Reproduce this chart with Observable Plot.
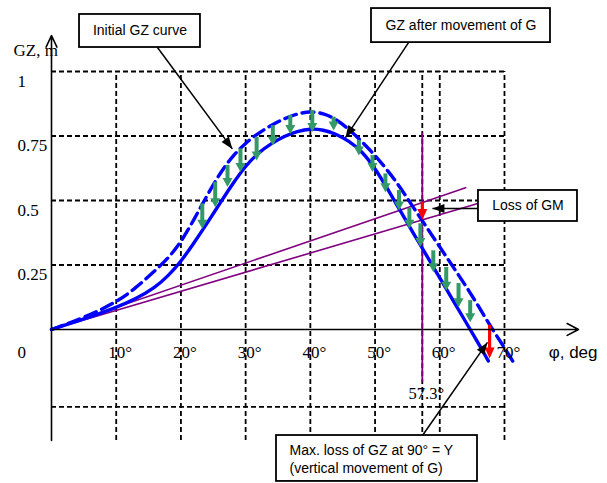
<!DOCTYPE html>
<html><head><meta charset="utf-8">
<script src="https://cdn.jsdelivr.net/npm/d3@7"></script>
<script src="https://cdn.jsdelivr.net/npm/@observablehq/plot@0.6"></script>
<style>html,body{margin:0;padding:0;background:#fff;} svg{display:block;}</style>
</head><body><div id="chart"></div>
<script>
// ---- data (heel angle φ in degrees, GZ in metres) ----
const initialPhi = [0,5,10,13,16,18,20,22,24,26,28,30,32,34,36,38,40,42,44,46,48,50,52,54,56,58,60,62,64,66,68,70,71.7];
const initialGZ  = [0,0.045,0.105,0.16,0.228,0.275,0.338,0.425,0.518,0.605,0.673,0.723,0.762,0.792,0.818,0.836,0.846,0.838,0.815,0.775,0.728,0.675,0.615,0.547,0.47,0.395,0.32,0.245,0.17,0.09,0.005,-0.07,-0.14];
const shiftedPhi = [0,5,10,13,16,18,20,22,24,26,28,30,32,34,36,38,40,42,44,46,48,50,52,54,56,58,60,62,64,66,67.5];
const shiftedGZ  = [0,0.04,0.085,0.118,0.162,0.207,0.263,0.335,0.41,0.488,0.565,0.635,0.686,0.722,0.75,0.768,0.779,0.774,0.758,0.73,0.69,0.625,0.543,0.455,0.37,0.285,0.2,0.115,0.03,-0.055,-0.122];

// green arrows: loss of GZ at each angle
const lossPhi = [23.3,25.3,27.2,29.2,31.7,34.2,36.9,40.3,43.6,47.5,49.6,51.6,53.7,55.3,57.0,59.0,61.0,62.9,64.7];
const lossTop = [0.487,0.571,0.636,0.70,0.745,0.79,0.83,0.849,0.823,0.733,0.674,0.603,0.539,0.47,0.41,0.305,0.24,0.178,0.112];
const lossTip = [0.39,0.474,0.552,0.61,0.655,0.713,0.758,0.765,0.771,0.674,0.61,0.532,0.461,0.39,0.32,0.222,0.15,0.086,0.028];

// red arrows: loss of GM (at 57.3°) and max loss of GZ
const redPhi = [57.3, 67.7];
const redTop = [0.492, 0.016];
const redTip = [0.424, -0.112];

// GM tangent lines (from origin)
const tangentEndPhi = [64.1, 66.0];
const tangentEndGZ  = [0.55, 0.489];
const radianPhi = 57.3;
const radianSpan = [-0.205, 0.76];

// axes / grid
const yTickValues = [1, 0.75, 0.5, 0.25];
const yTickLabels = ["1", "0.75", "0.5", "0.25"];
const xTickValues = [10, 20, 30, 40, 50, 60, 70];
const xTickLabels = ["10°", "20°", "30°", "40°", "50°", "60°", "70°"];
const hGridValues = [1, 0.75, 0.5, 0.25, -0.3];
const vGridValues = [10, 20, 30, 40, 50, 57.3, 60, 70];

// annotations (data units)
const noteTexts = ["Initial GZ curve", "GZ after movement of G", "Loss of GM"];
const noteBoxX1 = [4.33, 49.45, 65.98];
const noteBoxX2 = [23.02, 77.11, 81.28];
const noteBoxY1 = [1.093, 1.112, 0.4186];
const noteBoxY2 = [1.221, 1.244, 0.5388];
const bottomNoteLines = ["Max. loss of GZ at 90° = Y", "(vertical movement of G)"];
const bottomBox = {x1: 34.77, x2: 65.83, y1: -0.589, y2: -0.411};
const pointerFrom = [[16.38, 1.093], [55.17, 1.112], [65.98, 0.469], [57.33, -0.411]];
const pointerTo   = [[27.95, 0.70], [45.43, 0.744], [58.87, 0.469], [67.37, -0.05]];

// ---- layout ----
const W = 607, H = 483, ML = 51;
const xDomain = [0, 85.92];
const yDomain = [-0.597, 1.2752];
const KX = (W - ML) / (xDomain[1] - xDomain[0]);
const KY = H / (yDomain[1] - yDomain[0]);

function head(theta, L, Wd) {
  const c = Math.cos(theta), s = Math.sin(theta);
  const bx = -L * c, by = -L * s, px = -s * Wd / 2, py = c * Wd / 2;
  return {draw(ctx) { ctx.moveTo(0, 0); ctx.lineTo(bx + px, by + py); ctx.lineTo(bx - px, by - py); ctx.closePath(); }};
}

const initial = initialPhi.map((p, i) => ({phi: p, gz: initialGZ[i]}));
const shifted = shiftedPhi.map((p, i) => ({phi: p, gz: shiftedGZ[i]}));
const losses = lossPhi.map((p, i) => ({phi: p, top: lossTop[i], tip: lossTip[i]}));
const reds = redPhi.map((p, i) => ({phi: p, top: redTop[i], tip: redTip[i]}));
const tangents = tangentEndPhi.map((p, i) => ({x1: 0, y1: 0, x2: p, y2: tangentEndGZ[i]}));
const notes = noteTexts.map((t, i) => ({text: t, x1: noteBoxX1[i], x2: noteBoxX2[i], y1: noteBoxY1[i], y2: noteBoxY2[i]}));
const pointers = pointerFrom.map((f, i) => ({x1: f[0], y1: f[1], x2: pointerTo[i][0], y2: pointerTo[i][1]}));

const SERIF = "'Liberation Serif', 'Times New Roman', serif";
const SANS = "'Liberation Sans', Arial, sans-serif";
const grid = {stroke: "black", strokeWidth: 1.8, strokeDasharray: "5,3"};

const marks = [
  Plot.ruleY(hGridValues, {y: d => d, x1: 0, x2: 70, ...grid}),
  Plot.ruleX(vGridValues, {x: d => d, y1: -0.43, y2: 1, ...grid}),
  Plot.link(tangents, {x1: "x1", y1: "y1", x2: "x2", y2: "y2", stroke: "#800080", strokeWidth: 1.6}),
  Plot.ruleX([radianPhi], {x: d => d, y1: radianSpan[0], y2: radianSpan[1], stroke: "#800080", strokeWidth: 1.8}),
  Plot.line(initial, {x: "phi", y: "gz", stroke: "#0000ff", strokeWidth: 3.4, strokeDasharray: "12,6", curve: "basis"}),
  Plot.line(shifted, {x: "phi", y: "gz", stroke: "#0000ff", strokeWidth: 3.4, curve: "basis"}),
  Plot.ruleX(losses, {x: "phi", y1: "top", y2: "tip", stroke: "#339966", strokeWidth: 4, insetBottom: 6}),
  Plot.dot(losses, {x: "phi", y: "tip", symbol: head(Math.PI / 2, 9, 10), fill: "#339966", stroke: "none"}),
  Plot.ruleX(reds, {x: "phi", y1: "top", y2: "tip", stroke: "#ff0000", strokeWidth: 3.2, insetBottom: 6}),
  Plot.dot(reds, {x: "phi", y: "tip", symbol: head(Math.PI / 2, 11, 10), fill: "#ff0000", stroke: "none"}),
  // axes
  Plot.arrow([{x1: 0, y1: 0, x2: 81.44, y2: 0}], {x1: "x1", y1: "y1", x2: "x2", y2: "y2", stroke: "black", strokeWidth: 1.6, headLength: 12, headAngle: 55}),
  Plot.arrow([{x1: 0, y1: -0.43, x2: 0, y2: 1.1395}], {x1: "x1", y1: "y1", x2: "x2", y2: "y2", stroke: "black", strokeWidth: 1.6, headLength: 12, headAngle: 50}),
  Plot.text(yTickValues, {x: 0, y: d => d, text: (d, i) => yTickLabels[i], dx: -34, dy: 10, textAnchor: "start", fontFamily: SERIF, fontSize: 17, fill: "black"}),
  Plot.text(["0"], {x: 0, y: 0, text: d => d, dx: -34, dy: 23, textAnchor: "start", fontFamily: SERIF, fontSize: 17, fill: "black"}),
  Plot.text(xTickValues, {x: d => d, y: 0, text: (d, i) => xTickLabels[i], dx: 4, dy: 23, fontFamily: SERIF, fontSize: 17, fill: "black"}),
  Plot.text(["57.3°"], {x: radianPhi, y: 0, text: d => d, dx: 4, dy: 64, fontFamily: SERIF, fontSize: 16.5, fill: "black"}),
  Plot.text(["GZ, m"], {x: 0, y: 1.1395, text: d => d, dx: -38, dy: 15, textAnchor: "start", fontFamily: SERIF, fontSize: 17, fill: "black"}),
  Plot.text(["φ, deg"], {x: 81.44, y: 0, text: d => d, dx: 19, dy: 23, textAnchor: "end", fontFamily: SANS, fontSize: 17, fill: "black"}),
  // annotation pointers
  Plot.link(pointers, {x1: "x1", y1: "y1", x2: "x2", y2: "y2", stroke: "black", strokeWidth: 1.5}),
  ...pointers.map(p => Plot.dot([p], {x: "x2", y: "y2", fill: "black", stroke: "none",
    symbol: head(Math.atan2(-(p.y2 - p.y1) * KY, (p.x2 - p.x1) * KX), 12, 9)})),
  // annotation boxes
  Plot.rect(notes, {x1: "x1", x2: "x2", y1: "y1", y2: "y2", fill: "white", stroke: "black", strokeWidth: 1.8}),
  Plot.rect([bottomBox], {x1: "x1", x2: "x2", y1: "y1", y2: "y2", fill: "white", stroke: "black", strokeWidth: 1.8}),
  Plot.text(notes, {x: d => (d.x1 + d.x2) / 2, y: d => (d.y1 + d.y2) / 2, text: "text", fontFamily: SANS, fontSize: 14, fill: "black"}),
  Plot.text(bottomNoteLines, {x: bottomBox.x1 + 2.01, y: (d, i) => -0.469 - 0.07 * i, text: d => d, textAnchor: "start", fontFamily: SANS, fontSize: 14, fill: "black"})
];

const chart = Plot.plot({
  width: W, height: H,
  marginLeft: ML, marginRight: 0, marginTop: 0, marginBottom: 0,
  x: {domain: xDomain, axis: null},
  y: {domain: yDomain, axis: null},
  style: {background: "white", overflow: "visible"},
  marks
});
document.getElementById("chart").appendChild(chart);
</script>
</body></html>
